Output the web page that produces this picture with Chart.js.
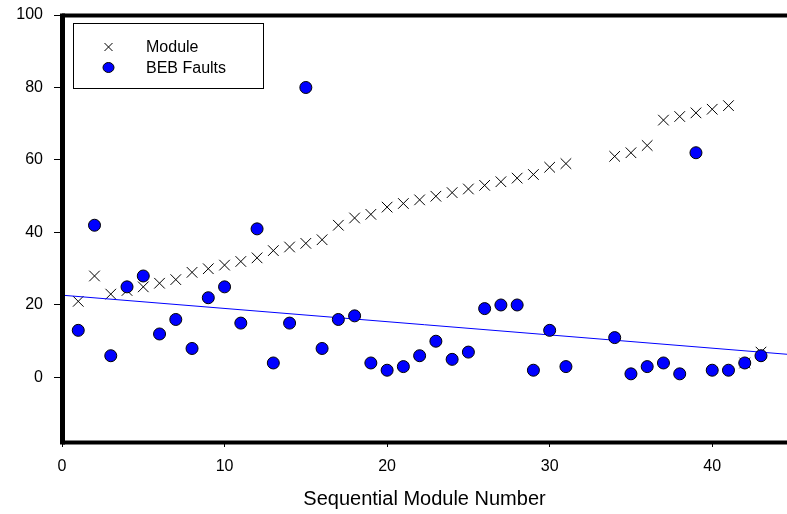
<!DOCTYPE html>
<html>
<head>
<meta charset="utf-8">
<script src="https://cdn.jsdelivr.net/npm/chart.js@4.4.0/dist/chart.umd.min.js"></script>
<style>
    html, body { margin: 0; padding: 0; background: #fff; overflow: hidden; }
    canvas { display: block; }
</style>
</head>
<body>
<canvas id="chart" width="787" height="514"></canvas>
<script>
// module numbers (32 and 33 have no data)
const moduleNo = [1, 2, 3, 4, 5, 6, 7, 8, 9, 10, 11, 12, 13, 14, 15, 16, 17, 18, 19, 20,
    21, 22, 23, 24, 25, 26, 27, 28, 29, 30, 31, 34, 35, 36, 37, 38, 39, 40, 41, 42, 43];
const moduleValues = [21, 28, 23, 24, 25, 26, 27, 29, 30, 31, 32, 33, 35, 36, 37, 38, 42, 44, 45, 47,
    48, 49, 50, 51, 52, 53, 54, 55, 56, 58, 59, 61, 62, 64, 71, 72, 73, 74, 75, 4, 7];
const faultValues = [13, 42, 6, 25, 28, 12, 16, 8, 22, 25, 15, 41, 4, 15, 80, 8, 16, 17, 4, 2,
    3, 6, 10, 5, 7, 19, 20, 20, 2, 13, 3, 11, 1, 3, 4, 1, 62, 2, 2, 4, 6];
// trend line end points
const trendX = [0, 44.6];
const trendY = [22.7, 6.4];

const xTicks = [0, 10, 20, 30, 40];
const yTicks = [0, 20, 40, 60, 80, 100];

const fontFamily = '"Liberation Sans", Arial, sans-serif';

// cadre: trait gauche, haut et bas
const framePlugin = {
    id: 'frame',
    afterDatasetsDraw(chart) {
        const { ctx, chartArea: a } = chart;
        ctx.save();
        ctx.strokeStyle = '#000';
        ctx.lineWidth = 4;
        ctx.beginPath();
        ctx.moveTo(a.left, a.top + 0.5);
        ctx.lineTo(chart.width, a.top + 0.5);
        ctx.moveTo(a.left, a.bottom + 0.5);
        ctx.lineTo(chart.width, a.bottom + 0.5);
        ctx.stroke();
        ctx.lineWidth = 5;
        ctx.beginPath();
        ctx.moveTo(a.left + 0.5, a.top - 1.5);
        ctx.lineTo(a.left + 0.5, a.bottom + 2.5);
        ctx.stroke();
        ctx.restore();
    }
};

// legende dans un cadre en haut a gauche
const boxLegend = {
    id: 'boxLegend',
    afterDraw(chart) {
        const { ctx, chartArea: a } = chart;
        const ds = chart.data.datasets;
        const bx = a.left + 11, by = a.top + 8;
        ctx.save();
        ctx.fillStyle = '#fff';
        ctx.fillRect(bx, by, 190, 65);
        ctx.strokeStyle = '#000';
        ctx.lineWidth = 1;
        ctx.strokeRect(bx + 0.5, by + 0.5, 190, 65);

        // croix
        const cx = bx + 35.5, cy1 = by + 24, cy2 = by + 44.5;
        ctx.beginPath();
        ctx.moveTo(cx - 4, cy1 - 4); ctx.lineTo(cx + 4, cy1 + 4);
        ctx.moveTo(cx - 4, cy1 + 4); ctx.lineTo(cx + 4, cy1 - 4);
        ctx.stroke();
        // rond
        ctx.beginPath();
        ctx.ellipse(cx, cy2, 5.5, 5, 0, 0, Math.PI * 2);
        ctx.fillStyle = '#0000ff';
        ctx.fill();
        ctx.stroke();

        ctx.fillStyle = '#000';
        ctx.font = '16px ' + fontFamily;
        ctx.textBaseline = 'middle';
        ctx.fillText(ds[0].label, bx + 73, cy1 + 1);
        ctx.fillText(ds[2].label, bx + 73, cy2 + 1);
        ctx.restore();
    }
};

const toPoints = (xs, ys) => xs.map((x, i) => ({ x: x, y: ys[i] }));

new Chart(document.getElementById('chart'), {
    type: 'scatter',
    data: {
        datasets: [{
            label: 'Module',
            data: toPoints(moduleNo, moduleValues),
            pointStyle: 'crossRot',
            pointRadius: 7.5,
            borderColor: '#000',
            backgroundColor: '#000',
            borderWidth: 1,
            order: 3
        }, {
            label: 'Trend',
            data: toPoints(trendX, trendY),
            showLine: true,
            borderColor: '#0000ff',
            borderWidth: 1,
            pointRadius: 0,
            order: 2
        }, {
            label: 'BEB Faults',
            data: toPoints(moduleNo, faultValues),
            pointStyle: 'circle',
            pointRadius: 6,
            backgroundColor: '#0000ff',
            borderColor: '#000',
            borderWidth: 1,
            order: 1
        }]
    },
    options: {
        responsive: false,
        animation: false,
        events: [],
        layout: { autoPadding: false, padding: { top: 15, left: 0, right: 0, bottom: 0 } },
        plugins: {
            legend: { display: false },
            tooltip: { enabled: false }
        },
        scales: {
            x: {
                type: 'linear',
                min: 0,
                max: 44.6,
                afterBuildTicks: s => { s.ticks = xTicks.map(v => ({ value: v })); },
                afterFit: s => { s.height = 72; s.paddingLeft = 0; s.paddingRight = 0; },
                ticks: { color: '#000', font: { family: fontFamily, size: 16 }, padding: 10, maxRotation: 0 },
                grid: { drawOnChartArea: false, drawTicks: true, tickLength: 5, color: '#000', lineWidth: 1 },
                border: { display: false },
                title: {
                    display: true,
                    text: 'Sequential Module Number',
                    color: '#000',
                    font: { family: fontFamily, size: 20 },
                    padding: { top: 4, bottom: 3 }
                }
            },
            y: {
                type: 'linear',
                min: -17.8,
                max: 100,
                afterBuildTicks: s => { s.ticks = yTicks.map(v => ({ value: v })); },
                afterFit: s => { s.width = 62; s.paddingTop = 0; s.paddingBottom = 0; },
                ticks: { color: '#000', font: { family: fontFamily, size: 16 }, padding: 11 },
                grid: { drawOnChartArea: false, drawTicks: true, tickLength: 8, color: '#000', lineWidth: 1 },
                border: { display: false }
            }
        }
    },
    plugins: [framePlugin, boxLegend]
});
</script>
</body>
</html>
